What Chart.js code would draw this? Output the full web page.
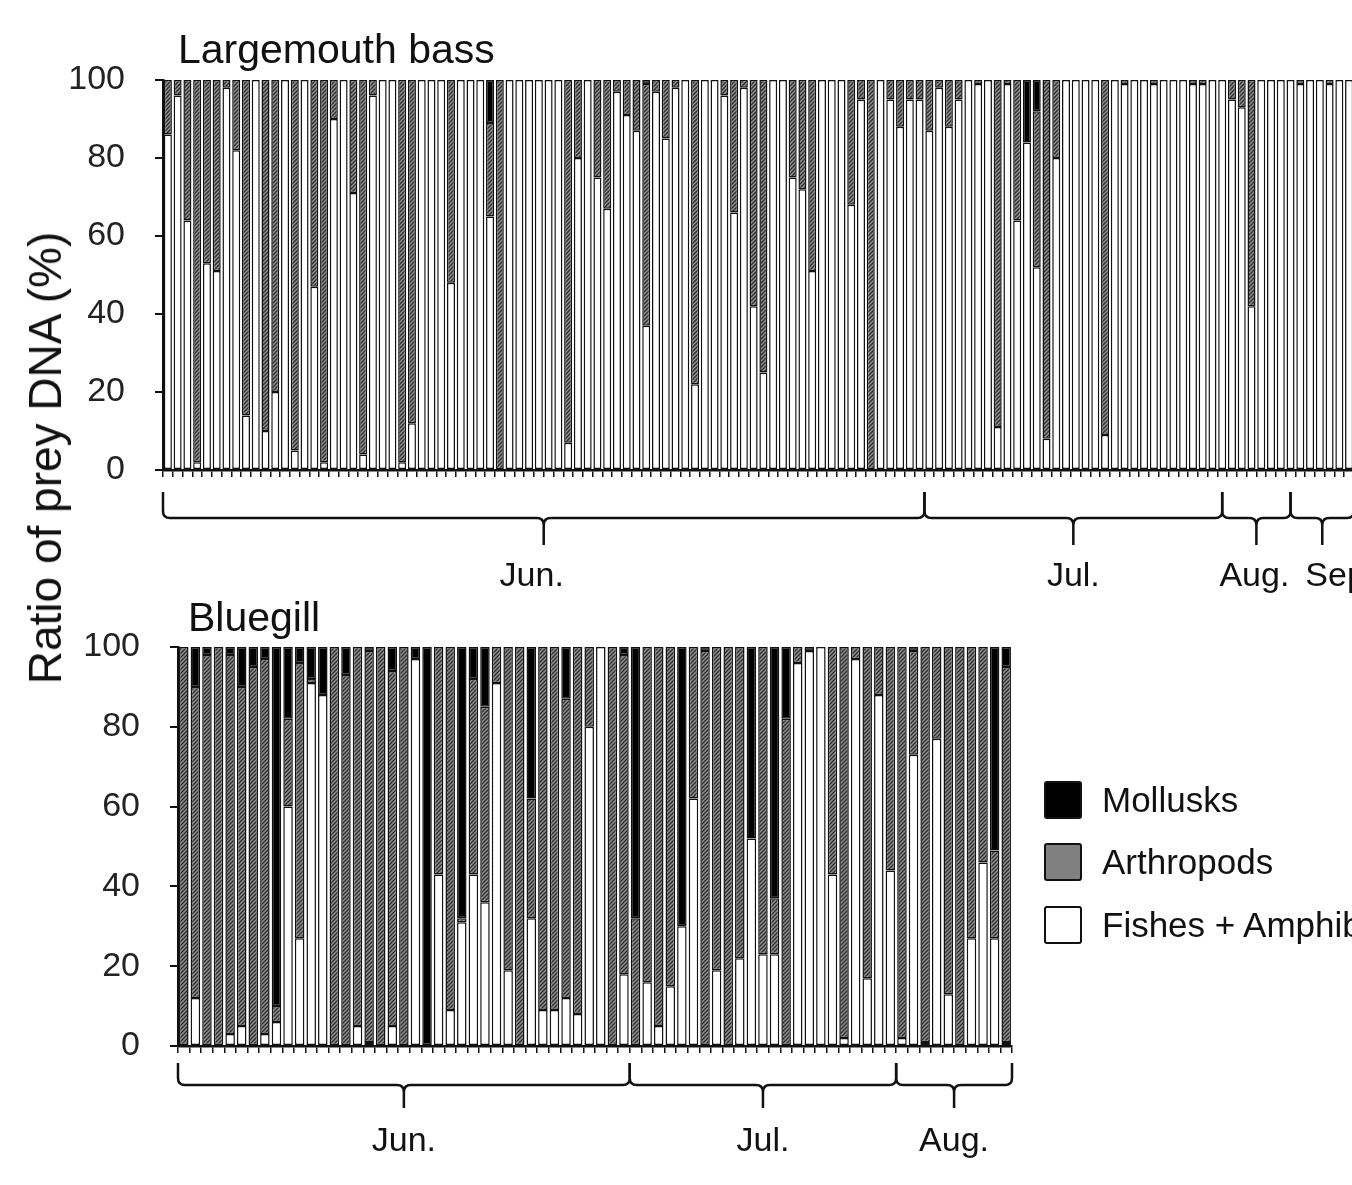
<!DOCTYPE html>
<html>
<head>
<meta charset="utf-8">
<script src="https://cdn.jsdelivr.net/npm/chart.js@4.4.1/dist/chart.umd.min.js"></script>
<style>
  html, body { margin: 0; padding: 0; background: #fff; }
  body { width: 1352px; height: 1185px; overflow: hidden; position: relative; font-family: 'Liberation Sans', Arial, sans-serif; color: #111; }
  canvas { position: absolute; left: 0; }
  #bass { top: 0; }
  #gill { top: 590px; }
  .title { position: absolute; font-size: 41px; line-height: 41px; white-space: nowrap; }
  #ylab { position: absolute; left: 45px; top: 458px; font-size: 46px; white-space: nowrap; transform: translate(-50%, -50%) rotate(-90deg); }
  .leg { position: absolute; left: 1044px; height: 38px; font-size: 35px; line-height: 38px; white-space: nowrap; }
  .leg span.box { display: inline-block; width: 34px; height: 34px; border: 2px solid #111; border-radius: 3px; vertical-align: top; margin-right: 20px; }
</style>
</head>
<body>
<canvas id="bass" width="1420" height="600"></canvas>
<canvas id="gill" width="1352" height="600"></canvas>
<div class="title" style="left:178px; top:29px;">Largemouth bass</div>
<div class="title" style="left:188px; top:597px;">Bluegill</div>
<div id="ylab">Ratio of prey DNA (%)</div>
<div class="leg" style="top:781px;"><span class="box" style="background:#000"></span>Mollusks</div>
<div class="leg" style="top:843px;"><span class="box" style="background:#808080"></span>Arthropods</div>
<div class="leg" style="top:906px;"><span class="box" style="background:#fff"></span>Fishes + Amphibians</div>
<script>
// Largemouth bass, one value per stomach sample (%)
const bassFish = [
  86, 96, 64, 2, 53, 51, 98, 82, 14, 100,
  10, 20, 100, 5, 100, 47, 2, 90, 100, 71,
  4, 96, 100, 100, 2, 12, 100, 100, 100, 48,
  100, 100, 100, 65, 0, 100, 100, 100, 100, 100,
  100, 7, 80, 100, 75, 67, 97, 91, 87, 37,
  97, 85, 98, 100, 22, 100, 100, 96, 66, 98,
  42, 25, 100, 100, 75, 72, 51, 100, 100, 100,
  68, 95, 0, 100, 95, 88, 95, 95, 87, 98,
  88, 95, 100, 99, 100, 11, 99, 64, 84, 52,
  8, 80, 100, 100, 100, 100, 9, 100, 99, 100,
  100, 99, 100, 100, 100, 99, 99, 100, 100, 95,
  93, 42, 100, 100, 100, 100, 99, 100, 100, 99,
  100, 100
]
const bassArth = [
  14, 4, 36, 98, 47, 49, 2, 18, 86, 0,
  90, 80, 0, 95, 0, 53, 98, 10, 0, 29,
  96, 4, 0, 0, 98, 88, 0, 0, 0, 52,
  0, 0, 0, 24, 100, 0, 0, 0, 0, 0,
  0, 93, 20, 0, 25, 33, 3, 9, 13, 62,
  3, 15, 2, 0, 78, 0, 0, 4, 34, 2,
  58, 75, 0, 0, 25, 28, 49, 0, 0, 0,
  32, 5, 100, 0, 5, 12, 5, 5, 13, 2,
  12, 5, 0, 1, 0, 89, 1, 36, 0, 40,
  92, 20, 0, 0, 0, 0, 91, 0, 1, 0,
  0, 1, 0, 0, 0, 1, 1, 0, 0, 5,
  7, 58, 0, 0, 0, 0, 1, 0, 0, 1,
  0, 0
]
const bassMoll = [
  0, 0, 0, 0, 0, 0, 0, 0, 0, 0,
  0, 0, 0, 0, 0, 0, 0, 0, 0, 0,
  0, 0, 0, 0, 0, 0, 0, 0, 0, 0,
  0, 0, 0, 11, 0, 0, 0, 0, 0, 0,
  0, 0, 0, 0, 0, 0, 0, 0, 0, 1,
  0, 0, 0, 0, 0, 0, 0, 0, 0, 0,
  0, 0, 0, 0, 0, 0, 0, 0, 0, 0,
  0, 0, 0, 0, 0, 0, 0, 0, 0, 0,
  0, 0, 0, 0, 0, 0, 0, 0, 16, 8,
  0, 0, 0, 0, 0, 0, 0, 0, 0, 0,
  0, 0, 0, 0, 0, 0, 0, 0, 0, 0,
  0, 0, 0, 0, 0, 0, 0, 0, 0, 0,
  0, 0
]
const bassMonths = ['Jun.', 'Jul.', 'Aug.', 'Sep.']
// month boundaries, in sample positions
const bassMonthEdges = [0, 78, 108.5, 115.5, 122]

// Bluegill
const gillFish = [
  0, 12, 0, 0, 3, 5, 0, 3, 6, 60,
  27, 91, 88, 0, 0, 5, 1, 0, 5, 0,
  97, 0, 43, 9, 31, 43, 36, 91, 19, 0,
  32, 9, 9, 12, 8, 80, 100, 0, 18, 0,
  16, 5, 15, 30, 62, 0, 19, 0, 22, 52,
  23, 23, 0, 96, 99, 100, 43, 2, 97, 17,
  88, 44, 2, 73, 1, 77, 13, 0, 27, 46,
  27, 1
]
const gillArth = [
  100, 78, 98, 100, 95, 85, 95, 94, 4, 22,
  69, 1, 0, 100, 93, 95, 98, 100, 89, 100,
  0, 0, 57, 91, 1, 49, 49, 9, 81, 100,
  30, 91, 91, 75, 92, 20, 0, 100, 80, 32,
  84, 95, 85, 0, 38, 99, 81, 100, 78, 0,
  77, 14, 82, 4, 0, 0, 57, 98, 3, 83,
  12, 56, 98, 26, 99, 23, 87, 100, 73, 54,
  22, 94
]
const gillMoll = [
  0, 10, 2, 0, 2, 10, 5, 3, 90, 18,
  4, 8, 12, 0, 7, 0, 1, 0, 6, 0,
  3, 100, 0, 0, 68, 8, 15, 0, 0, 0,
  38, 0, 0, 13, 0, 0, 0, 0, 2, 68,
  0, 0, 0, 70, 0, 1, 0, 0, 0, 48,
  0, 63, 18, 0, 1, 0, 0, 0, 0, 0,
  0, 0, 0, 1, 0, 0, 0, 0, 0, 0,
  51, 5
]
const gillMonths = ['Jun.', 'Jul.', 'Aug.']
const gillMonthEdges = [0, 39, 62, 72]

const yTicks = [0, 20, 40, 60, 80, 100]
const seriesNames = ['Fishes + Amphibians', 'Arthropods', 'Mollusks']
const FONT = "'Liberation Sans', Arial, sans-serif"

function makeHatch() {
  const c = document.createElement('canvas')
  c.width = 4
  c.height = 4
  const g = c.getContext('2d')
  g.fillStyle = '#8e8e8e'
  g.fillRect(0, 0, 4, 4)
  g.strokeStyle = '#2e2e2e'
  g.lineWidth = 1.3
  g.beginPath()
  g.moveTo(-1, 5); g.lineTo(5, -1)
  g.moveTo(-1, 1); g.lineTo(1, -1)
  g.moveTo(3, 5); g.lineTo(5, 3)
  g.stroke()
  return g.createPattern(c, 'repeat')
}

// curly braces + month names under the x axis
const bracePlugin = {
  id: 'braces',
  afterDraw(chart, args, opts) {
    const xs = chart.scales.x
    const base = xs.top
    const ctx = chart.ctx
    const r = 7
    ctx.save()
    ctx.strokeStyle = '#111'
    ctx.lineWidth = 2.5
    ctx.fillStyle = '#111'
    ctx.font = opts.fontSize + 'px ' + FONT
    ctx.textAlign = 'center'
    ctx.textBaseline = 'middle'
    opts.months.forEach((m, i) => {
      const x1 = xs.getPixelForValue(opts.edges[i] - 0.5)
      const x2 = xs.getPixelForValue(opts.edges[i + 1] - 0.5)
      const xm = (x1 + x2) / 2
      const y0 = base + opts.top, yb = base + opts.mid, yt = base + opts.tip
      ctx.beginPath()
      ctx.moveTo(x1, y0)
      ctx.lineTo(x1, yb - r)
      ctx.quadraticCurveTo(x1, yb, x1 + r, yb)
      ctx.lineTo(xm - r, yb)
      ctx.quadraticCurveTo(xm, yb, xm, yb + r)
      ctx.lineTo(xm, yt)
      ctx.moveTo(xm, yb + r)
      ctx.quadraticCurveTo(xm, yb, xm + r, yb)
      ctx.lineTo(x2 - r, yb)
      ctx.quadraticCurveTo(x2, yb, x2, yb - r)
      ctx.lineTo(x2, y0)
      ctx.stroke()
      const shift = (opts.shift && opts.shift[i]) || 0
      ctx.fillText(m, xm + shift, base + opts.label)
    })
    ctx.restore()
  }
}

function drawChart(id, fish, arth, moll, months, edges, box) {
  const hatch = makeHatch()
  const labels = fish.map((v, i) => String(i + 1))
  const common = {
    borderColor: '#111',
    borderWidth: 1.5,
    borderSkipped: false,
    categoryPercentage: 0.82,
    barPercentage: 1.0,
  }
  return new Chart(document.getElementById(id), {
    type: 'bar',
    data: {
      labels: labels,
      datasets: [
        { label: seriesNames[0], data: fish, backgroundColor: '#ffffff', ...common },
        { label: seriesNames[1], data: arth, backgroundColor: hatch, ...common },
        { label: seriesNames[2], data: moll, backgroundColor: '#000000', ...common },
      ]
    },
    options: {
      responsive: false,
      animation: false,
      events: [],
      layout: { padding: { left: 0, top: box.top, right: box.right, bottom: 0 } },
      plugins: {
        legend: { display: false },
        tooltip: { enabled: false },
        braces: { months: months, edges: edges, fontSize: 34, top: box.braceTop, mid: box.braceMid, tip: box.braceTip, label: box.labelY, shift: box.shift },
      },
      scales: {
        x: {
          stacked: true,
          ticks: { display: false },
          grid: { display: true, drawOnChartArea: false, color: '#111', lineWidth: 1.5, tickLength: 7 },
          border: { display: true, color: '#111', width: 2.5 },
          afterFit: (s) => { s.height = box.xh },
        },
        y: {
          stacked: true,
          min: 0,
          max: 100,
          afterBuildTicks: (s) => { s.ticks = yTicks.map(v => ({ value: v })) },
          ticks: { color: '#222', padding: 30, font: { size: 34, family: FONT } },
          grid: { display: true, drawOnChartArea: false, color: '#111', lineWidth: 2, tickLength: 8 },
          border: { display: true, color: '#111', width: 2.5 },
          afterFit: (s) => { s.width = box.yw },
        }
      }
    },
    plugins: [bracePlugin]
  })
}

window.addEventListener('load', () => {
  drawChart('bass', bassFish, bassArth, bassMoll, bassMonths, bassMonthEdges,
    { top: 80, right: 66, xh: 130, yw: 163, braceTop: 22, braceMid: 48, braceTip: 75, labelY: 107, shift: [-12, 0, -2, 18] })
  drawChart('gill', gillFish, gillArth, gillMoll, gillMonths, gillMonthEdges,
    { top: 57, right: 340, xh: 144, yw: 178, braceTop: 17, braceMid: 39, braceTip: 62, labelY: 96 })
})
</script>
</body>
</html>
